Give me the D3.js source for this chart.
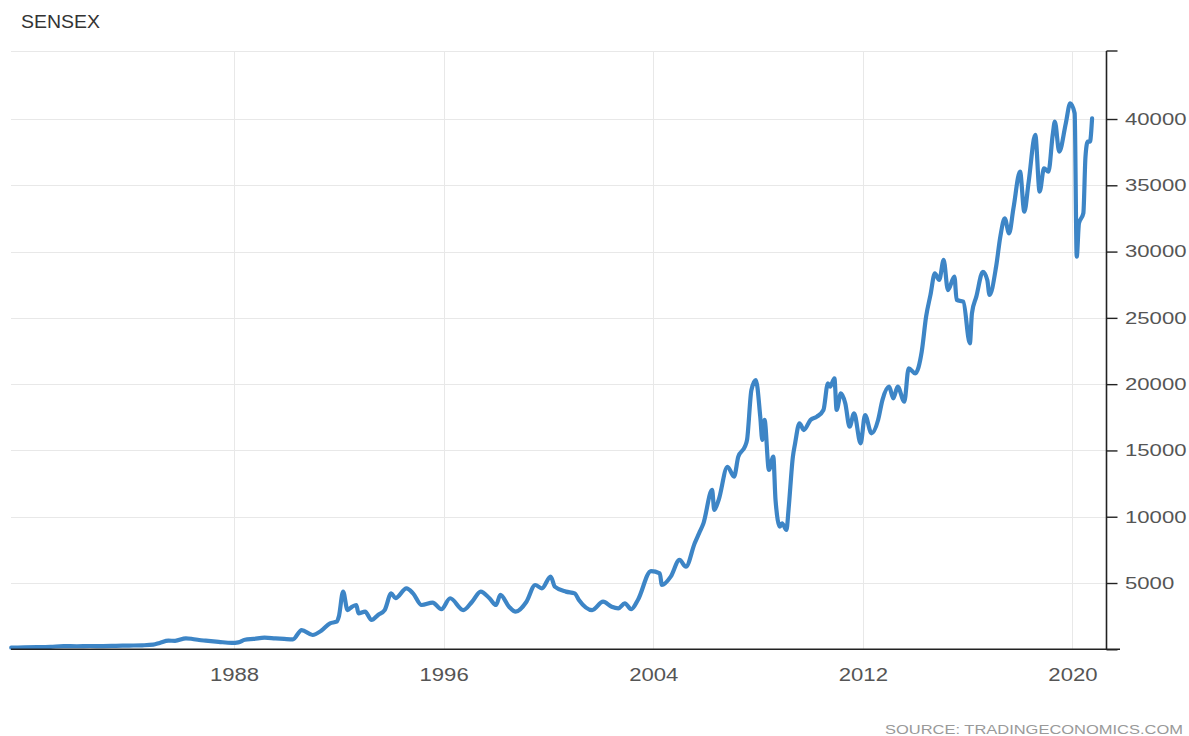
<!DOCTYPE html>
<html lang="en">
<head>
<meta charset="UTF-8">
<title>SENSEX</title>
<script src="https://d3js.org/d3.v7.min.js"></script>
<style>
  body { margin: 0; background: #fff; }
  svg { font-family: "Liberation Sans", Arial, sans-serif; }
  .grid line { stroke: #e8e8e8; stroke-width: 1; }
  .line { fill: none; stroke: #3d85c6; stroke-width: 4.2; stroke-linejoin: round; stroke-linecap: round; }
</style>
</head>
<body>
<script>
  // month (YYYY-MM) and index level
  const months = [
    "1979-07","1980-01","1980-07","1981-01","1981-07","1982-01","1982-07","1983-01","1983-07","1984-01",
    "1984-07","1984-12","1985-03","1985-07","1985-10","1986-03","1986-06","1986-09","1986-12","1987-06",
    "1987-12","1988-03","1988-06","1988-10","1989-03","1989-08","1989-12","1990-04","1990-08","1991-01",
    "1991-05","1991-09","1991-12","1992-01","1992-03","1992-05","1992-07","1992-09","1992-10","1993-01",
    "1993-04","1993-07","1993-10","1994-01","1994-03","1994-08","1994-11","1995-03","1995-08","1995-12",
    "1996-04","1996-10","1997-02","1997-06","1997-10","1998-01","1998-03","1998-07","1998-10","1999-03",
    "1999-07","1999-10","2000-02","2000-04","2000-09","2001-01","2001-03","2001-09","2002-02","2002-06",
    "2002-09","2002-12","2003-03","2003-06","2003-12","2004-04","2004-05","2004-09","2005-01","2005-04",
    "2005-08","2005-10","2005-12","2006-04","2006-05","2006-07","2006-11","2007-02","2007-04","2007-07",
    "2007-08","2007-10","2007-12","2008-02","2008-03","2008-04","2008-06","2008-08","2008-09","2008-11",
    "2008-12","2009-02","2009-03","2009-05","2009-06","2009-08","2009-10","2010-01","2010-04","2010-07",
    "2010-09","2010-10","2010-12","2011-01","2011-03","2011-05","2011-07","2011-09","2011-12","2012-02",
    "2012-05","2012-08","2012-10","2013-01","2013-03","2013-05","2013-08","2013-10","2014-01","2014-04",
    "2014-06","2014-08","2014-10","2014-12","2015-02","2015-04","2015-07","2015-08","2015-11","2016-02",
    "2016-03","2016-05","2016-08","2016-10","2016-11","2017-02","2017-04","2017-06","2017-08","2017-10",
    "2018-01","2018-03","2018-05","2018-08","2018-10","2018-12","2019-02","2019-04","2019-05","2019-07",
    "2019-10","2019-12","2020-02","2020-03","2020-04","2020-06","2020-07","2020-08","2020-09","2020-10"
  ]
  const sensex = [
    120,140,160,190,240,230,250,240,260,280,
    300,350,480,650,640,830,780,700,650,560,
    480,520,720,780,880,820,780,750,1450,1080,
    1400,1960,2080,2460,4350,2960,3200,3340,2710,2840,
    2210,2590,2960,4220,3850,4600,4220,3340,3520,3020,
    3850,2960,3590,4350,3850,3340,4100,3210,2840,3590,
    4850,4600,5480,4720,4350,4220,3720,2960,3590,3210,
    3090,3470,3020,3720,5900,5730,4850,5480,6740,6230,
    8000,8750,9500,12020,10510,11260,13770,13020,14530,15280,
    15790,19560,20310,17550,15790,17300,13530,14530,11260,9250,
    9500,9000,10510,14530,15540,17050,16540,17300,17550,18050,
    20070,19810,20440,18050,19310,18560,16790,17800,15540,17670,
    16290,17300,18810,19810,18930,19810,18680,21200,20820,22450,
    25090,26730,28360,27860,29370,27100,28110,26350,26220,23080,
    25340,26600,28480,27860,26730,28860,31130,32510,31380,33270,
    36030,33010,35270,38800,34520,36280,36030,38800,39800,37540,
    39680,41190,40430,29620,32130,32890,37160,38290,38290,40050
  ]
  const yearTicks = [1988, 1996, 2004, 2012, 2020]
  const valueTicks = [5000, 10000, 15000, 20000, 25000, 30000, 35000, 40000]

  const width = 1189, height = 736
  const plotLeft = 11, plotRight = 1106.5, plotTop = 51, plotBottom = 649.3
  const digitWidth = 12.3 // the reference lettering is drawn wide

  const parse = d3.timeParse("%Y-%m")
  const data = months.map((m, i) => ({ date: parse(m), value: sensex[i] }))

  const x = d3.scaleTime()
    .domain([new Date(1979, 5, 28), new Date(2021, 3, 20)])
    .range([plotLeft, plotRight])
  const y = d3.scaleLinear()
    .domain([0, 45130])
    .range([plotBottom, plotTop])

  const svg = d3.select("body").append("svg")
    .attr("width", width)
    .attr("height", height)

  // title
  svg.append("text")
    .attr("x", 21).attr("y", 28)
    .attr("font-size", 18)
    .attr("fill", "#333")
    .attr("textLength", 79)
    .attr("lengthAdjust", "spacingAndGlyphs")
    .text("SENSEX")

  // grid
  const grid = svg.append("g").attr("class", "grid")
  grid.selectAll(".h")
    .data(valueTicks.concat([y.domain()[1]]))
    .join("line")
    .attr("x1", plotLeft).attr("x2", plotRight)
    .attr("y1", d => Math.round(y(d)) + 0.5)
    .attr("y2", d => Math.round(y(d)) + 0.5)
  grid.selectAll(".v")
    .data(yearTicks)
    .join("line")
    .attr("x1", d => Math.round(x(new Date(d, 0, 1))) + 0.5)
    .attr("x2", d => Math.round(x(new Date(d, 0, 1))) + 0.5)
    .attr("y1", plotTop).attr("y2", plotBottom)

  // series
  const line = d3.line()
    .x(d => x(d.date))
    .y(d => y(d.value))
    .curve(d3.curveMonotoneX)
  svg.append("path")
    .datum(data)
    .attr("class", "line")
    .attr("d", line)

  // x axis
  const xAxis = d3.axisBottom(x)
    .tickValues(yearTicks.map(yr => new Date(yr, 0, 1)))
    .tickFormat(d3.timeFormat("%Y"))
    .tickSize(0)
    .tickPadding(19)
  const gx = svg.append("g")
    .attr("transform", `translate(0,${plotBottom})`)
    .call(xAxis)
  gx.select(".domain").remove()
  gx.selectAll("text").attr("font-size", 17.5).attr("fill", "#555")
    .attr("font-family", "Liberation Sans, Arial, sans-serif")
    .attr("textLength", function () { return this.textContent.length * digitWidth })
    .attr("lengthAdjust", "spacingAndGlyphs")
  svg.append("line")
    .attr("x1", plotLeft).attr("x2", 1120)
    .attr("y1", plotBottom).attr("y2", plotBottom)
    .attr("stroke", "#222").attr("stroke-width", 1.6)

  // y axis on the right
  const yAxis = d3.axisRight(y)
    .tickValues([0].concat(valueTicks))
    .tickFormat(d => d === 0 ? "" : d)
    .tickSize(11)
    .tickPadding(7.5)
    .tickSizeOuter(0)
  const gy = svg.append("g")
    .attr("transform", `translate(${plotRight},0)`)
    .call(yAxis)
  gy.select(".domain").attr("stroke", "#222").attr("stroke-width", 1.6)
    .attr("d", `M0,${plotTop}V${plotBottom}`)
  gy.selectAll(".tick line").attr("stroke", "#222").attr("stroke-width", 1.4)
  gy.selectAll("text").attr("font-size", 16.5).attr("fill", "#555")
    .attr("font-family", "Liberation Sans, Arial, sans-serif")
    .attr("textLength", function () { return this.textContent.length * digitWidth })
    .attr("lengthAdjust", "spacingAndGlyphs")
  // top end cap of the axis
  svg.append("line")
    .attr("x1", plotRight).attr("x2", plotRight + 11)
    .attr("y1", plotTop).attr("y2", plotTop)
    .attr("stroke", "#222").attr("stroke-width", 1.4)

  // source
  svg.append("text")
    .attr("x", 1183).attr("y", 733.5)
    .attr("text-anchor", "end")
    .attr("font-size", 13.5)
    .attr("fill", "#999")
    .attr("textLength", 298)
    .attr("lengthAdjust", "spacingAndGlyphs")
    .text("SOURCE: TRADINGECONOMICS.COM")
</script>
</body>
</html>
